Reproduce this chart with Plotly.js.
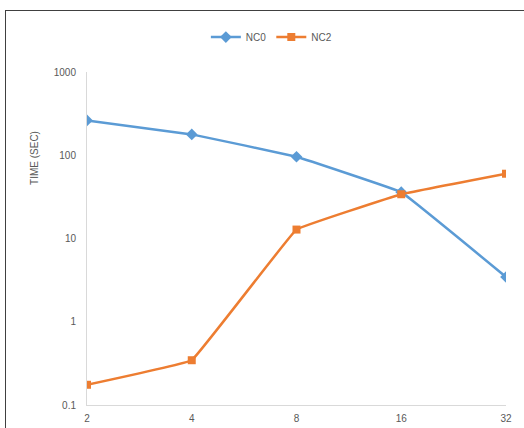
<!DOCTYPE html>
<html>
<head>
<meta charset="utf-8">
<script src="https://cdn.plot.ly/plotly-3.0.1.min.js"></script>
<style>
html,body{margin:0;padding:0;background:#fff;}
#wrap{position:relative;width:524px;height:428px;overflow:hidden;}
#frame{position:absolute;left:5px;top:10px;width:600px;height:600px;border-top:1.5px solid #404040;border-left:1.5px solid #404040;pointer-events:none;z-index:5;}
#chart{position:absolute;left:0;top:0;width:524px;height:428px;}
</style>
</head>
<body>
<div id="wrap"><div id="chart"></div><div id="frame"></div></div>
<script>
const categories = ["2", "4", "8", "16", "32"];
const nc0 = [262, 178, 96, 36, 3.45];
const nc2 = [0.175, 0.345, 12.8, 34, 60];
const yTickVals = [0.1, 1, 10, 100, 1000];
const yTickText = ["0.1", "1", "10", "100", "1000"];
const seriesNames = ["NC0", "NC2"];

const font = {family: "Liberation Sans, Arial, sans-serif", size: 10, color: "#595959"};

const traces = [
  {x: categories, y: nc0, name: seriesNames[0], type: "scatter", mode: "lines+markers",
   line: {color: "#5B9BD5", width: 2.5, shape: "spline", smoothing: 0.15},
   marker: {symbol: "diamond", size: 9, color: "#5B9BD5"}},
  {x: categories, y: nc2, name: seriesNames[1], type: "scatter", mode: "lines+markers",
   line: {color: "#ED7D31", width: 2.5, shape: "spline", smoothing: 0.15},
   marker: {symbol: "square", size: 8, color: "#ED7D31"}}
];

const layout = {
  width: 524, height: 428,
  margin: {l: 87, r: 18, t: 72, b: 23},
  paper_bgcolor: "#fff", plot_bgcolor: "#fff",
  font: font,
  showlegend: true,
  legend: {orientation: "h", x: 0.44, xanchor: "center", y: 1.105, yanchor: "middle",
           font: {family: font.family, size: 10, color: "#595959"}, itemwidth: 30, tracegroupgap: 0},
  xaxis: {type: "category", range: [0, 4], showgrid: false, zeroline: false,
          showline: true, linecolor: "#D9D9D9", linewidth: 1, ticks: "", ticklabelstandoff: 4,
          tickfont: font},
  yaxis: {type: "log", range: [-1, 3], tickvals: yTickVals, ticktext: yTickText,
          showgrid: false, zeroline: false, showline: true, linecolor: "#D9D9D9", linewidth: 1,
          ticks: "", ticklabelstandoff: 8, tickfont: font},
  annotations: [{text: "TIME (SEC)", textangle: -90, xref: "paper", yref: "paper",
                 x: -0.124, y: 0.742, xanchor: "center", yanchor: "middle", showarrow: false,
                 font: {family: font.family, size: 10, color: "#595959"}}]
};

Plotly.newPlot("chart", traces, layout, {displayModeBar: false, staticPlot: true});
</script>
</body>
</html>
